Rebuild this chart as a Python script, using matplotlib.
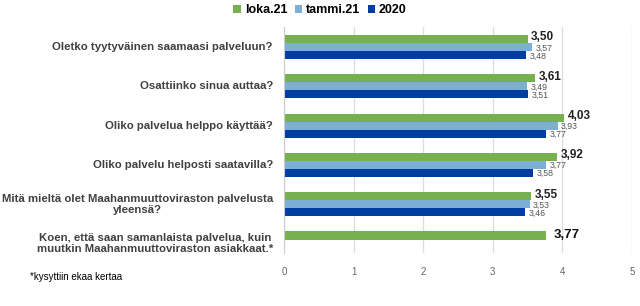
import matplotlib
matplotlib.use('Agg')
import matplotlib.pyplot as plt
from matplotlib.patches import Patch
import numpy as np

plt.rcParams['font.family'] = ['Liberation Sans', 'DejaVu Sans']

kysymykset = ['Oletko tyytyväinen saamaasi palveluun?',
              'Osattiinko sinua auttaa?',
              'Oliko palvelua helppo käyttää?',
              'Oliko palvelu helposti saatavilla?',
              'Mitä mieltä olet Maahanmuuttoviraston palvelusta\nyleensä?',
              'Koen, että saan samanlaista palvelua, kuin\nmuutkin Maahanmuuttoviraston asiakkaat.*']
loka21 = [3.50, 3.61, 4.03, 3.92, 3.55, 3.77]
tammi21 = [3.57, 3.49, 3.93, 3.77, 3.53, None]
v2020 = [3.48, 3.51, 3.77, 3.58, 3.46, None]
sarjat = ['loka.21', 'tammi.21', '2020']
varit = ['#76B04F', '#7DAFD6', '#003DA0']

def fmt(v):
    return ('%.2f' % v).replace('.', ',')

fig = plt.figure(figsize=(6.4, 3.06), dpi=100)
ax = fig.add_axes([284/640, 1-253/306, 348/640, 226/306])

y = np.arange(len(kysymykset))
h = 0.205
for j, (vals, c) in enumerate(zip([loka21, tammi21, v2020], varit)):
    for i, v in enumerate(vals):
        if v is None:
            continue
        yy = y[i] + (j - 1) * h
        ax.barh(yy, v, height=h, color=c, zorder=2)
        if j == 0:
            if i == 5:
                ax.text(v + 0.1, yy - 0.02, fmt(v), fontsize=9.5, fontweight='bold',
                        color='#111111', va='center', ha='left')
            else:
                ax.text(v + 0.05, yy - 0.04, fmt(v), fontsize=8.5, fontweight='bold',
                        color='#222222', va='center', ha='left')
        else:
            ax.text(v + 0.05, yy + 0.02, fmt(v), fontsize=6.3, color='#555555',
                    va='center', ha='left')

ax.set_xlim(0, 5)
ax.set_ylim(5.24, -0.51)
ax.set_xticks(range(6))
ax.set_xticklabels([str(k) for k in range(6)], fontsize=7, color='#666666')
ax.set_yticks(y)
ax.set_yticklabels([])
ax.tick_params(length=0, pad=10)
ax.grid(axis='x', color='#DDDDDD', linewidth=0.9, zorder=0)
for s in ['top', 'right', 'bottom']:
    ax.spines[s].set_visible(False)
ax.spines['left'].set_color('#CCCCCC')

for i, k in enumerate(kysymykset):
    ax.text(-0.16, y[i], k, fontsize=8.2, fontweight='bold', color='#404040',
            ha='right', va='center', multialignment='center', linespacing=1.15)

fig.text(30/640, 1-277/306, '*kysyttiin ekaa kertaa', fontsize=7, color='black',
         va='center', ha='left')

handles = [Patch(facecolor=c, label=s) for s, c in zip(sarjat, varit)]
fig.legend(handles=handles, loc='center', bbox_to_anchor=(0.5, 1-10/306), ncol=3,
           frameon=False, prop={'weight': 'bold', 'size': 9},
           handlelength=0.6, handleheight=0.6, handletextpad=0.3, columnspacing=0.6)

fig.savefig('out.png', dpi=100)
